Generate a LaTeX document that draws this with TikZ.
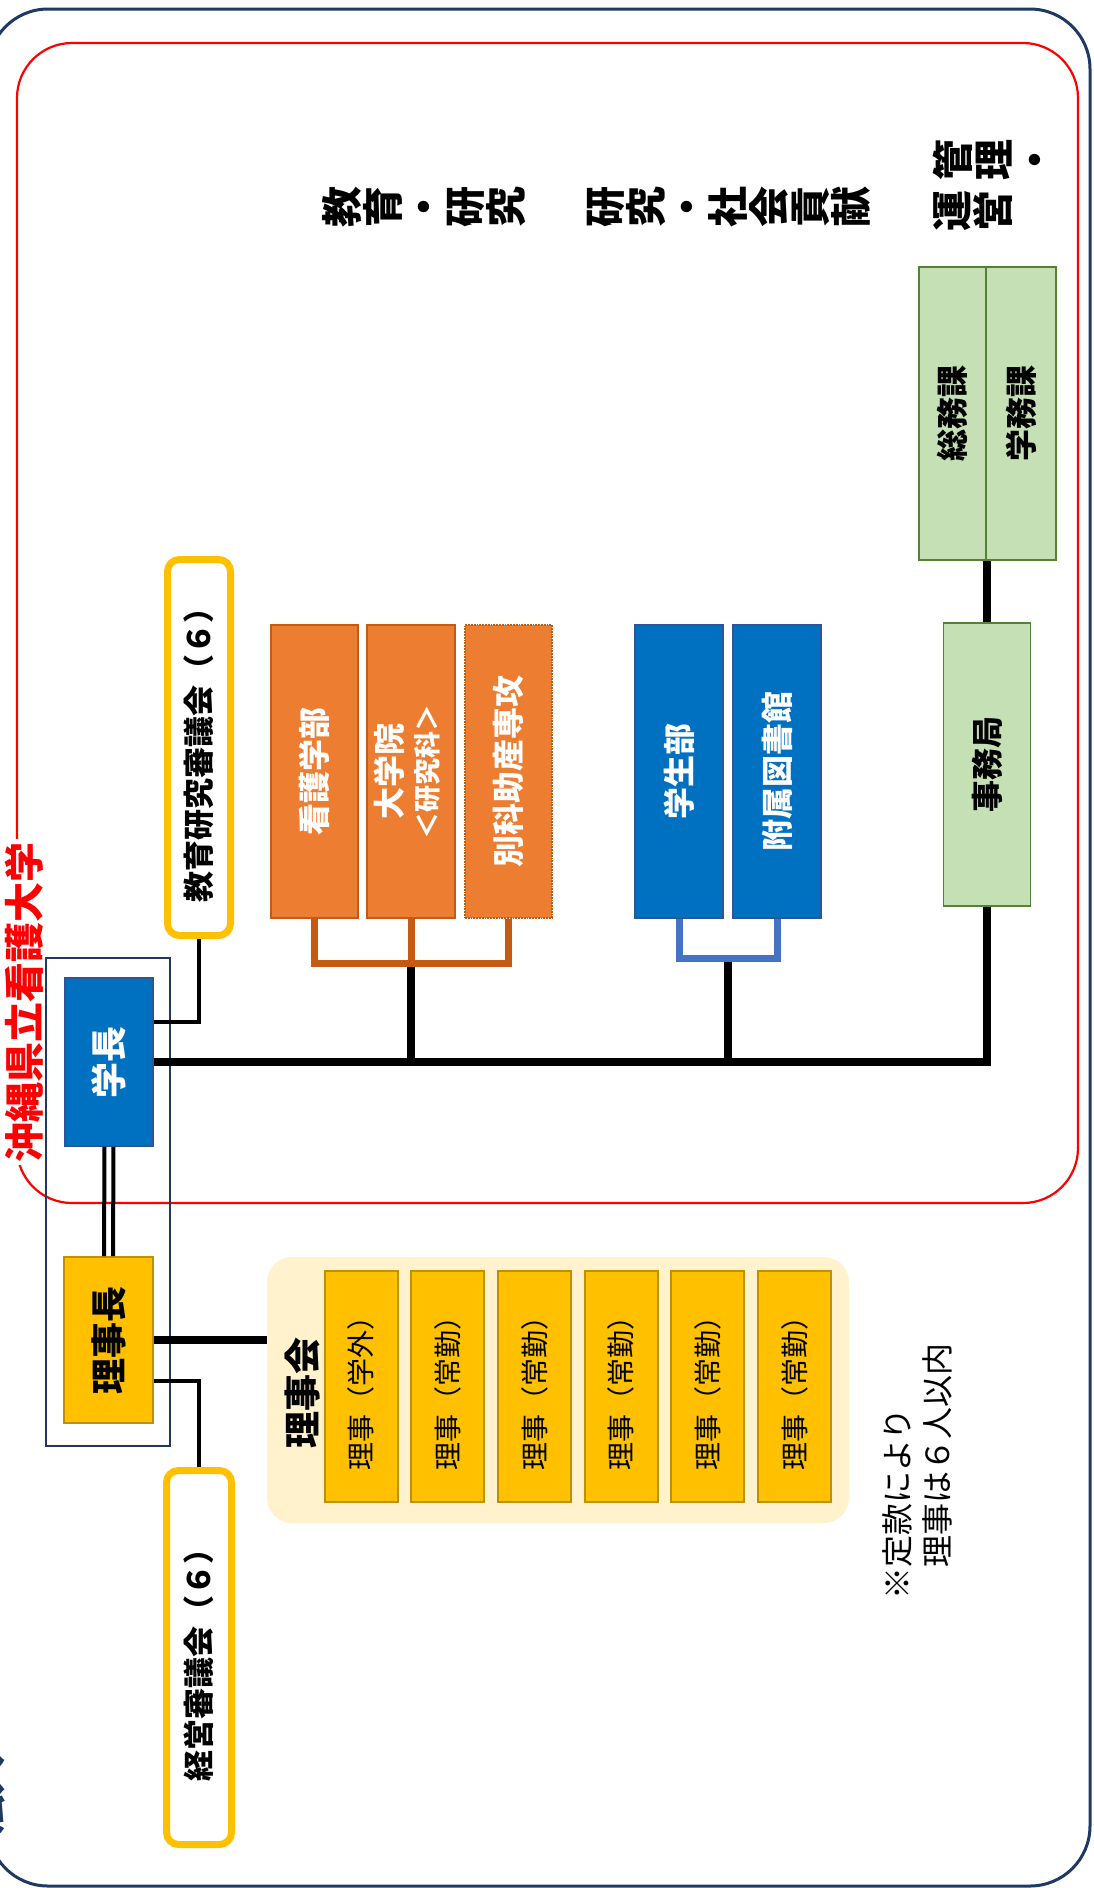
\documentclass[tikz,border=0pt]{standalone}
\usepackage{fontspec}
\setmainfont{Noto Sans CJK JP}
\definecolor{navyline}{HTML}{1F3864}
\definecolor{orangeF}{HTML}{ED7D31}
\definecolor{orangeD}{HTML}{C55A11}
\definecolor{blueF}{HTML}{0070C0}
\definecolor{blueD}{HTML}{2F5597}
\definecolor{blueBr}{HTML}{4472C4}
\definecolor{trusteeY}{HTML}{FFC000}
\definecolor{trusteeD}{HTML}{BF9000}
\definecolor{rijikaiBg}{HTML}{FFF2CC}
\definecolor{greenF}{HTML}{C5E0B4}
\definecolor{greenD}{HTML}{548235}
% vertical heading, one glyph per line, then turned
\newcommand{\tate}[1]{\rotatebox{90}{\parbox{1.2em}{\centering #1}}}
\begin{document}
\begin{tikzpicture}[x=1pt, y=-1pt,
  unitbox/.style={draw, line width=1.8pt, inner sep=0pt, font=\bfseries\fontsize{32}{36}\selectfont},
  council/.style={draw=trusteeY, fill=white, line width=7pt, rounded corners=12pt, inner sep=0pt, font=\bfseries\fontsize{31}{36}\selectfont},
  trustee/.style={draw=trusteeD, fill=trusteeY, line width=2pt, minimum width=73pt, minimum height=231pt, inner sep=0pt, font=\fontsize{28}{32}\selectfont},
  heading/.style={inner sep=0pt, font=\bfseries\fontsize{41}{41}\selectfont},
  bus/.style={line width=8pt},
  thinlink/.style={line width=4pt}]
\useasboundingbox (0,0) rectangle (1094,1888);

% frames
\draw[navyline, line width=3pt, rounded corners=60pt] (-12,9) rectangle (1090,1886);
\node[text=navyline, inner sep=0pt, font=\bfseries\fontsize{40}{44}\selectfont] (corp) at (-14,1795) {\rotatebox{90}{法人}};
\draw[red, line width=2.2pt, rounded corners=55pt] (17,43) rectangle (1078,1203);
\node[fill=white, text=red, inner sep=3pt, font=\bfseries\fontsize{40}{44}\selectfont] (univ) at (24,1002) {\rotatebox{90}{沖縄県立看護大学}};
\draw[navyline, line width=2pt] (46,958) rectangle (170,1446);

% headings
\node[heading] (hedu) at (424,207) {\tate{教\\育\\・\\研\\究}};
\node[heading] (hres) at (729,207) {\tate{研\\究\\・\\社\\会\\貢\\献}};
\node[heading, anchor=west] (hadm1) at (933,160) {\tate{管\\理\\・}};
\node[heading, anchor=west] (hadm2) at (933,211) {\tate{運\\営}};

% top
\node[unitbox, fill=blueF, draw=blueD, text=white, minimum width=88pt, minimum height=168pt, font=\bfseries\fontsize{36}{40}\selectfont] (gakucho) at (109,1062) {\rotatebox{90}{学長}};
\node[unitbox, fill=trusteeY, draw=trusteeD, minimum width=89pt, minimum height=166pt, font=\bfseries\fontsize{36}{40}\selectfont] (rijicho) at (108.5,1340) {\rotatebox{90}{理事長}};
\draw[line width=4pt] ([xshift=-4.5pt]gakucho.south) -- ([xshift=-4.5pt]rijicho.north);
\draw[line width=4pt] ([xshift=4.5pt]gakucho.south) -- ([xshift=4.5pt]rijicho.north);

% councils
\node[council, minimum width=63pt, minimum height=376pt] (kyoshin) at (199,747.5) {\rotatebox{90}{教育研究審議会（６）}};
\node[council, minimum width=65pt, minimum height=374pt] (keishin) at (199,1657.5) {\rotatebox{90}{経営審議会（６）}};
\draw[thinlink] ([yshift=40pt]gakucho.east) -| (kyoshin.south);
\draw[thinlink] ([yshift=-41pt]rijicho.east) -| (keishin.north);

% board
\node[fill=rijikaiBg, rounded corners=25pt, minimum width=582pt, minimum height=266pt, inner sep=0pt] (rijikai) at (558,1390) {};
\node[inner sep=0pt, font=\bfseries\fontsize{37}{40}\selectfont] (rijikaitxt) at (302,1393) {\rotatebox{90}{理事会}};
\foreach \t [count=\i from 0] in {学外,常勤,常勤,常勤,常勤,常勤}
  \node[trustee] (riji\i) at (361+86.7*\i,1386.5) {\raisebox{0pt}{\rotatebox{90}{理事（\t）}}};
\draw[bus] (rijicho.east) -- (rijicho.east -| rijikai.west);

% faculties
\node[unitbox, fill=orangeF, draw=orangeD, text=white, minimum width=87pt, minimum height=293pt] (kango) at (314.5,771.5) {\rotatebox{90}{看護学部}};
\node[unitbox, fill=orangeF, draw=orangeD, text=white, minimum width=88pt, minimum height=293pt] (daigakuin) at (411,771.5)
  {\rotatebox{90}{\begin{tabular}{@{}c@{}}大学院\\{\fontsize{27}{30}\selectfont ＜研究科＞}\end{tabular}}};
\node[unitbox, fill=orangeF, draw=orangeD, densely dotted, text=white, minimum width=87pt, minimum height=293pt] (bekka) at (508.5,771.5) {\rotatebox{90}{別科助産専攻}};
\node[unitbox, fill=blueF, draw=blueD, text=white, minimum width=88pt, minimum height=293pt] (gakusei) at (679,771.5) {\rotatebox{90}{学生部}};
\node[unitbox, fill=blueF, draw=blueD, text=white, minimum width=88pt, minimum height=293pt] (library) at (777,771.5) {\rotatebox{90}{附属図書館}};

% office
\node[unitbox, fill=greenF, draw=greenD, minimum width=87pt, minimum height=283pt] (jimu) at (987,764.5) {\rotatebox{90}{事務局}};
\node[unitbox, fill=greenF, draw=greenD, minimum width=67pt, minimum height=293pt] (somu) at (952.5,413.5) {\rotatebox{90}{総務課}};
\node[unitbox, fill=greenF, draw=greenD, minimum width=70pt, minimum height=293pt] (gakumu) at (1021,413.5) {\rotatebox{90}{学務課}};

% connectors
\coordinate (ojunc) at ([yshift=-45pt]daigakuin.south);
\coordinate (bjunc) at (728,958);
\draw[bus] (gakucho.east) -| (jimu.south);
\draw[bus] (ojunc) -- (ojunc |- gakucho.east);
\draw[bus] (bjunc) -- (bjunc |- gakucho.east);
\draw[bus] (jimu.north) -- (jimu.north |- somu.south);
\draw[orangeD, line width=7pt] (kango.south) |- (ojunc) -| (bekka.south);
\draw[orangeD, line width=7pt] (daigakuin.south) -- (ojunc);
\draw[blueBr, line width=7pt] (gakusei.south) |- (bjunc) -| (library.south);

% note
\node[anchor=south, inner sep=0pt, font=\fontsize{32}{40}\selectfont] (note) at (921,1600)
  {\rotatebox{90}{\begin{tabular}{@{}l@{}}※定款により\\　理事は６人以内\end{tabular}}};
\end{tikzpicture}
\end{document}
